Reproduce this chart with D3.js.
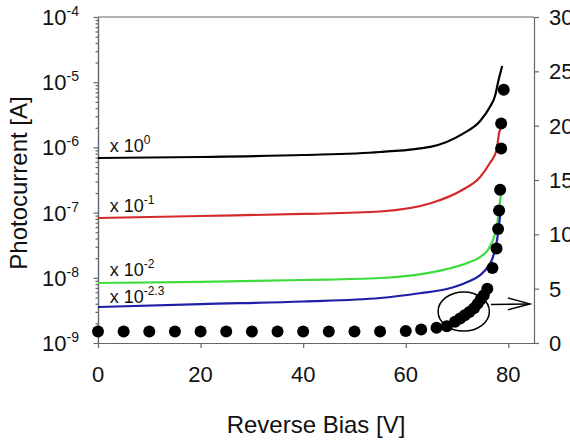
<!DOCTYPE html>
<html><head><meta charset="utf-8">
<script src="https://cdn.jsdelivr.net/npm/d3@7"></script>
<style>body{margin:0;background:#fff;} text{font-family:"Liberation Sans",Arial,sans-serif;fill:#111;}</style>
</head><body><svg id="c" width="570" height="441"></svg>
<script>
// ---- data ----
const biasTicks = [0, 20, 40, 60, 80];
const gainTicks = [0, 5, 10, 15, 20, 25, 30];
const currentExponents = [-9, -8, -7, -6, -5, -4];
const curveNames = ["x1", "x0.1", "x0.01", "x10^-2.3"];
const curveExponentLabels = ["0", "-1", "-2", "-2.3"];

const blackV = [0, 20, 40, 55, 65, 71, 74.5, 76.4, 77.4, 78, 78.8];
const blackI = [6.88e-7, 7.13e-7, 7.64e-7, 8.5e-7, 1.03e-6, 1.6e-6, 2.54e-6, 4.17e-6, 6.14e-6, 1.0e-5, 1.77e-5];

const redV = [0, 20, 40, 55, 65, 71, 74.5, 76.4, 77.7, 78.2, 78.7];
const redI = [8.26e-8, 8.87e-8, 9.53e-8, 1.04e-7, 1.40e-7, 2.22e-7, 3.52e-7, 5.76e-7, 9.12e-7, 1.66e-6, 2.21e-6];

const greenV = [0, 20, 40, 55, 63, 68, 72, 74.5, 76, 77, 77.8, 78.3, 78.6];
const greenI = [8.32e-9, 8.63e-9, 9.25e-9, 9.93e-9, 1.14e-8, 1.36e-8, 1.69e-8, 2.08e-8, 2.67e-8, 3.80e-8, 6.46e-8, 1.31e-7, 2.07e-7];

const blueV = [0, 20, 40, 55, 63, 68, 72, 74.5, 76, 77, 77.8, 78.3, 78.6];
const blueI = [3.56e-9, 3.96e-9, 4.33e-9, 4.90e-9, 5.85e-9, 6.73e-9, 8.63e-9, 1.10e-8, 1.47e-8, 2.08e-8, 3.80e-8, 7.70e-8, 1.18e-7];

const gainV = [0, 5, 10, 15, 20, 25, 30, 35, 40, 45, 50, 55, 60, 63, 66, 68, 69.6, 70.6, 71.5, 72.4, 73.3, 74.0, 74.6, 75.2, 75.9, 76.9, 77.7, 78.0, 78.2, 78.4, 78.6, 78.6, 79.1];
const gain  = [1.05, 1.05, 1.05, 1.05, 1.05, 1.05, 1.05, 1.05, 1.05, 1.05, 1.05, 1.05, 1.1, 1.25, 1.4, 1.55, 1.95, 2.25, 2.55, 2.85, 3.2, 3.6, 4.0, 4.4, 5.0, 6.9, 8.7, 10.5, 12.2, 14.1, 17.9, 20.2, 23.3];

// ellipse and arrow annotation (data coordinates)
const ellipseCenter = [71.3, 2.9];
const ellipseRadii = [5.0, 1.8];
const arrowFrom = [76.6, 3.55];
const arrowTo = [84.2, 3.6];

// ---- chart ----
const svg = d3.select("#c");
const L = 98, R = 534, T = 17, B = 343;
const x = d3.scaleLinear().domain([0, 85]).range([L, R]);
const y = d3.scaleLog().domain([1e-9, 1e-4]).range([B, T]);
const yR = d3.scaleLinear().domain([0, 30]).range([B, T]);
const axisColor = "#666";

function styleAxis(g) {
  g.selectAll("path,line").attr("stroke", axisColor).attr("stroke-width", 1.2);
  g.selectAll("text").remove();
}

// frame top
svg.append("line").attr("x1", L).attr("x2", R).attr("y1", T).attr("y2", T)
  .attr("stroke", axisColor).attr("stroke-width", 1.2);

// left axis, major + minor
const majors = currentExponents.map(e => Math.pow(10, e));
const minors = [];
currentExponents.slice(0, -1).forEach(e => { for (let k = 2; k <= 9; k++) minors.push(k * Math.pow(10, e)); });
svg.append("g").attr("transform", `translate(${L},0)`)
  .call(d3.axisLeft(y).tickValues(minors).tickSize(2.5).tickSizeOuter(0)).call(styleAxis);
svg.append("g").attr("transform", `translate(${L},0)`)
  .call(d3.axisLeft(y).tickValues(majors).tickSize(4.5).tickSizeOuter(0)).call(styleAxis);

// bottom axis
svg.append("g").attr("transform", `translate(0,${B})`)
  .call(d3.axisBottom(x).tickValues(biasTicks).tickSize(5).tickSizeOuter(0)).call(styleAxis);
// right axis
svg.append("g").attr("transform", `translate(${R},0)`)
  .call(d3.axisRight(yR).tickValues(gainTicks).tickSize(5).tickSizeOuter(0)).call(styleAxis);

// tick labels
const lab = svg.append("g");
currentExponents.forEach(e => {
  const t = lab.append("text").attr("x", 79).attr("y", y(Math.pow(10, e)) + 8)
    .attr("text-anchor", "end").attr("font-size", 22);
  t.append("tspan").text("10");
  t.append("tspan").attr("font-size", 14).attr("dy", -9).text(String(e).replace("-", "-"));
});
biasTicks.forEach(v => {
  lab.append("text").attr("x", x(v)).attr("y", 382).attr("text-anchor", "middle")
    .attr("font-size", 22).text(v);
});
gainTicks.forEach(g => {
  lab.append("text").attr("x", 549).attr("y", yR(g) + 8).attr("text-anchor", "start")
    .attr("font-size", 22).text(g);
});

// titles
svg.append("text").attr("x", 316).attr("y", 433).attr("text-anchor", "middle")
  .attr("font-size", 24).text("Reverse Bias [V]");
svg.append("text").attr("transform", "translate(27,183) rotate(-90)").attr("text-anchor", "middle")
  .attr("font-size", 24).text("Photocurrent [A]");

// curves
const curves = [
  {v: blackV, i: blackI, color: "#000000", off: -6},
  {v: redV, i: redI, color: "#d42a2a", off: -6},
  {v: greenV, i: greenI, color: "#3ddc3d", off: -7},
  {v: blueV, i: blueI, color: "#1e1eaa", off: -4}
];
const line = d3.line().x(d => x(d[0])).y(d => y(d[1])).curve(d3.curveMonotoneX);
curves.forEach((c, k) => {
  const pts = c.v.map((v, j) => [v, c.i[j]]);
  svg.append("path").attr("d", line(pts)).attr("fill", "none")
    .attr("stroke", c.color).attr("stroke-width", 2.2);
  const t = svg.append("text").attr("x", x(2.3)).attr("y", y(c.i[0]) + c.off).attr("font-size", 18);
  t.append("tspan").text("x 10");
  t.append("tspan").attr("font-size", 12).attr("dy", -8).text(curveExponentLabels[k]);
});

// gain dots
svg.append("g").selectAll("circle").data(gainV.map((v, j) => [v, gain[j]])).join("circle")
  .attr("cx", d => x(d[0])).attr("cy", d => yR(d[1])).attr("r", 6).attr("fill", "#000");

// ellipse + arrow
svg.append("ellipse").attr("cx", x(ellipseCenter[0])).attr("cy", yR(ellipseCenter[1]))
  .attr("rx", x(ellipseCenter[0] + ellipseRadii[0]) - x(ellipseCenter[0]))
  .attr("ry", yR(0) - yR(ellipseRadii[1]))
  .attr("fill", "none").attr("stroke", "#000").attr("stroke-width", 1.5);
const ax1 = x(arrowFrom[0]), ay1 = yR(arrowFrom[1]), ax2 = x(arrowTo[0]), ay2 = yR(arrowTo[1]);
svg.append("line").attr("x1", ax1).attr("y1", ay1).attr("x2", ax2).attr("y2", ay2)
  .attr("stroke", "#000").attr("stroke-width", 1.5);
svg.append("path").attr("d", `M${ax2 - 22},${ay2 - 6}L${ax2},${ay2}L${ax2 - 22},${ay2 + 6}`)
  .attr("fill", "none").attr("stroke", "#000").attr("stroke-width", 1.5);
</script></body></html>
